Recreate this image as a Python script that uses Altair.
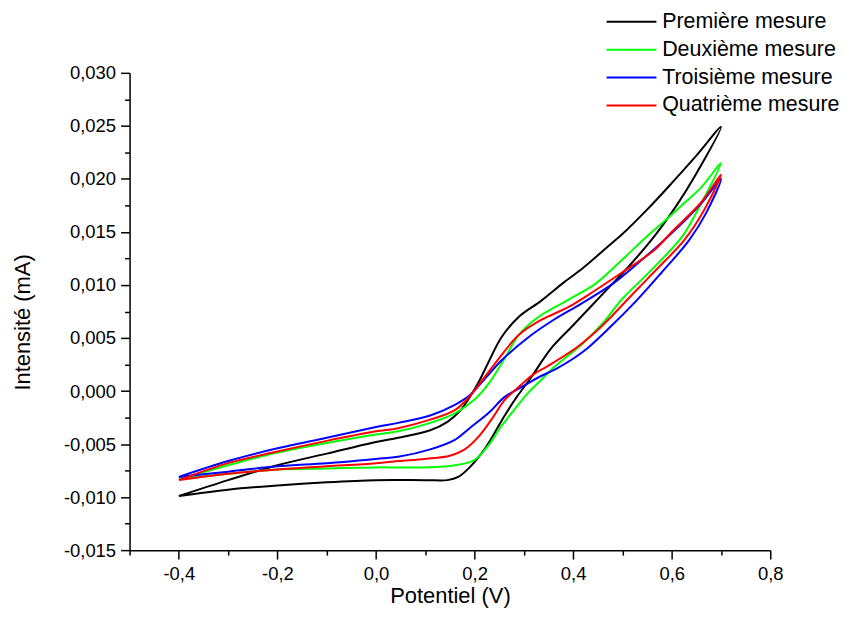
import altair as alt
import pandas as pd

series_names = ["Première mesure", "Deuxième mesure", "Troisième mesure", "Quatrième mesure"]
series_colors = ["#000000", "#00ff00", "#0000ff", "#ff0000"]

# Each loop: lower branch from -0.4 V up to 0.7 V, then upper branch back to -0.4 V
black_x = [-0.40, -0.30, -0.20, -0.10, 0.00, 0.10, 0.145, 0.167, 0.19, 0.22, 0.24, 0.26, 0.285, 0.315,
           0.355, 0.40, 0.455, 0.51, 0.565, 0.61, 0.645, 0.70,
           0.65, 0.60, 0.55, 0.50, 0.47, 0.42, 0.38, 0.335, 0.29, 0.255, 0.227, 0.21, 0.19, 0.17,
           0.145, 0.11, 0.045, 0.00, -0.10, -0.20, -0.30, -0.40]
black_y = [-0.0099, -0.0093, -0.0089, -0.0086, -0.0084, -0.0084, -0.0084, -0.0081, -0.0072, -0.0055,
           -0.0040, -0.0024, -0.0006, 0.0013, 0.0040, 0.0062, 0.0089, 0.0116, 0.0146, 0.0175, 0.0201,
           0.0249,
           0.0222, 0.0196, 0.0171, 0.0148, 0.0136, 0.0116, 0.0102, 0.0085, 0.0070, 0.0051, 0.0026,
           0.0010, -0.0006, -0.0019, -0.0029, -0.0037, -0.0044, -0.0048, -0.0059, -0.0070, -0.0084,
           -0.0099]

green_x = [-0.40, -0.30, -0.20, -0.10, 0.00, 0.045, 0.10, 0.16, 0.20, 0.23, 0.25, 0.28, 0.31, 0.33,
           0.36, 0.42, 0.46, 0.50, 0.55, 0.60, 0.625, 0.66, 0.70,
           0.66, 0.625, 0.585, 0.55, 0.50, 0.445, 0.39, 0.33, 0.29, 0.26, 0.23, 0.20, 0.16, 0.11,
           0.045, 0.00, -0.10, -0.20, -0.30, -0.40]
green_y = [-0.0083, -0.0078, -0.0074, -0.0073, -0.0072, -0.0072, -0.0072, -0.0070, -0.0065, -0.0050,
           -0.0036, -0.0018, -0.0001, 0.0008, 0.0022, 0.0045, 0.0064, 0.0087, 0.0110, 0.0134, 0.0148,
           0.0177, 0.0215,
           0.0192, 0.0177, 0.0160, 0.0146, 0.0124, 0.0101, 0.0086, 0.0070, 0.0053, 0.0030, 0.0008,
           -0.0008, -0.0021, -0.0030, -0.0038, -0.0041, -0.0049, -0.0058, -0.0070, -0.0083]

blue_x = [-0.40, -0.30, -0.20, -0.10, 0.00, 0.045, 0.11, 0.16, 0.19, 0.23, 0.26, 0.30, 0.33, 0.37,
          0.42, 0.47, 0.53, 0.58, 0.635, 0.67, 0.70,
          0.66, 0.605, 0.54, 0.48, 0.415, 0.36, 0.31, 0.255, 0.22, 0.19, 0.16, 0.11, 0.045,
          0.00, -0.10, -0.20, -0.30, -0.40]
blue_y = [-0.0081, -0.0076, -0.0071, -0.0068, -0.0064, -0.0062, -0.0055, -0.0046, -0.0035, -0.0020,
          -0.0006, 0.0005, 0.0013, 0.0022, 0.0037, 0.0058, 0.0086, 0.0112, 0.0142, 0.0168, 0.0200,
          0.0177, 0.0151, 0.0124, 0.0101, 0.0082, 0.0067, 0.0051, 0.0029, 0.0011, -0.0004,
          -0.0013, -0.0023, -0.0030, -0.0034, -0.0044, -0.0054, -0.0066, -0.0081]

red_x = [-0.40, -0.30, -0.20, -0.10, 0.00, 0.045, 0.10, 0.15, 0.18, 0.21, 0.24, 0.26, 0.29, 0.32,
         0.35, 0.41, 0.46, 0.52, 0.57, 0.625, 0.665, 0.70,
         0.66, 0.60, 0.565, 0.50, 0.445, 0.39, 0.335, 0.29, 0.24, 0.215, 0.19, 0.16, 0.11, 0.045,
         0.00, -0.10, -0.20, -0.30, -0.40]
red_y = [-0.0084, -0.0078, -0.0074, -0.0071, -0.0068, -0.0066, -0.0064, -0.0061, -0.0055, -0.0042,
         -0.0023, -0.0009, 0.0004, 0.0016, 0.0024, 0.0042, 0.0062, 0.0091, 0.0115, 0.0142, 0.0170,
         0.0204,
         0.0178, 0.0150, 0.0133, 0.0112, 0.0095, 0.0079, 0.0067, 0.0053, 0.0025, 0.0010, -0.0005,
         -0.0018, -0.0027, -0.0035, -0.0038, -0.0047, -0.0057, -0.0068, -0.0084]

x_ticks = [-0.5, -0.4, -0.3, -0.2, -0.1, 0.0, 0.1, 0.2, 0.3, 0.4, 0.5, 0.6, 0.7, 0.8]
y_ticks = [-0.015, -0.0125, -0.010, -0.0075, -0.005, -0.0025, 0.0, 0.0025, 0.005, 0.0075,
           0.010, 0.0125, 0.015, 0.0175, 0.020, 0.0225, 0.025, 0.0275, 0.030]

rows = []
for name, xs, ys in zip(series_names, [black_x, green_x, blue_x, red_x],
                        [black_y, green_y, blue_y, red_y]):
    for i, (xv, yv) in enumerate(zip(xs, ys)):
        rows.append({"mesure": name, "potentiel": xv, "intensite": yv, "idx": i})
df = pd.DataFrame(rows)

font = "Liberation Sans"

x_axis = alt.Axis(
    values=x_ticks,
    title="Potentiel (V)",
    labelExpr="abs(round(datum.value*10)) % 2 == 0 ? ((datum.value < -1e-9 ? '-' : '') + replace(format(abs(datum.value), '.1f'), '.', ',')) : ''",
    tickSize={"condition": {"test": "abs(round(datum.value*10)) % 2 == 0", "value": 9}, "value": 5},
    labelFlush=False,
    labelOverlap=False,
    grid=False,
    labelPadding=5,
    titlePadding=3,
)
y_axis = alt.Axis(
    values=y_ticks,
    title="Intensité (mA)",
    labelExpr="abs(round(datum.value*400)) % 2 == 0 ? ((datum.value < -1e-9 ? '-' : '') + replace(format(abs(datum.value), '.3f'), '.', ',')) : ''",
    tickSize={"condition": {"test": "abs(round(datum.value*400)) % 2 == 0", "value": 9}, "value": 5},
    labelOverlap=False,
    grid=False,
    labelPadding=5,
    titlePadding=29,
    titleY=250,
)

chart = alt.Chart(df).mark_line(strokeWidth=2, interpolate="catmull-rom").encode(
    x=alt.X("potentiel:Q", scale=alt.Scale(domain=[-0.5, 0.8], nice=False, zero=False), axis=x_axis),
    y=alt.Y("intensite:Q", scale=alt.Scale(domain=[-0.015, 0.030], nice=False, zero=False), axis=y_axis),
    color=alt.Color(
        "mesure:N",
        scale=alt.Scale(domain=series_names, range=series_colors),
        sort=series_names,
        legend=alt.Legend(
            title=None,
            orient="none",
            legendX=493,
            legendY=-62,
            symbolType="M-5,0H5",
            symbolSize=100,
            symbolStrokeWidth=2,
            labelFontSize=21.5,
            labelFont=font,
            labelColor="black",
            labelOffset=20,
            labelLimit=400,
            rowPadding=5,
            padding=0,
        ),
    ),
    order=alt.Order("idx:Q"),
    detail="mesure:N",
).properties(
    width=643,
    height=479,
    autosize=alt.AutoSizeParams(type="none"),
    padding={"left": 122, "top": 64, "right": 76, "bottom": 58},
).configure_view(
    stroke=None
).configure_axis(
    domainColor="black",
    domainWidth=1.5,
    tickColor="black",
    tickWidth=1.5,
    labelFont=font,
    labelFontSize=18.5,
    labelColor="black",
    titleFont=font,
    titleFontSize=22,
    titleFontWeight="normal",
    titleColor="black",
)

chart.save("out.html", embed_options={"renderer": "svg", "actions": False})
